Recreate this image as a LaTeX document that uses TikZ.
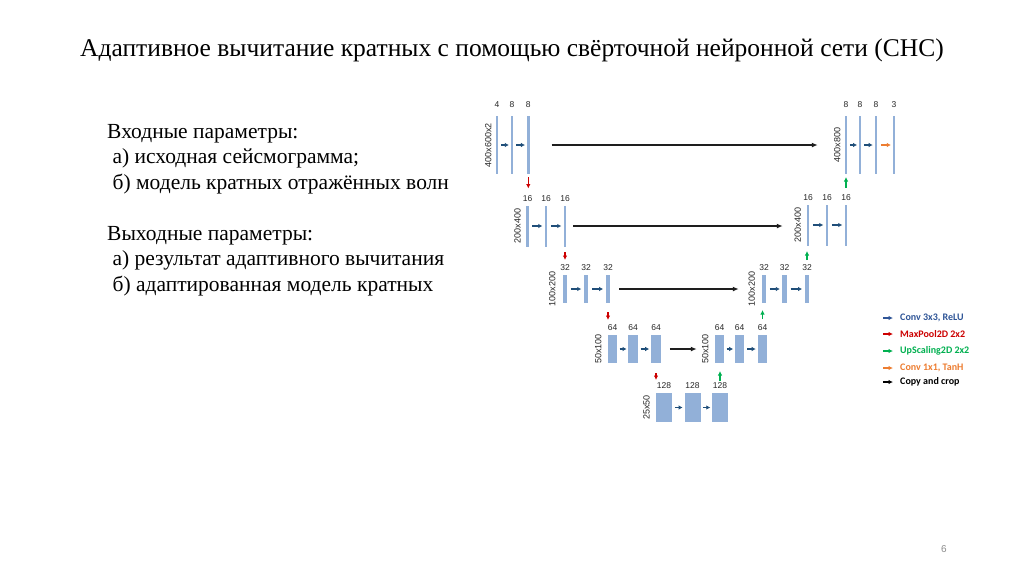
\documentclass[tikz,border=0pt]{standalone}
\usepackage{fontspec}
\setmainfont{Liberation Serif}
\newfontfamily\arialf{Liberation Sans}
\newfontfamily\calibrif{Carlito}
\usetikzlibrary{arrows.meta,calc}
\definecolor{barc}{RGB}{146,176,216}
\definecolor{convc}{RGB}{31,78,121}
\definecolor{poolc}{RGB}{204,0,0}
\definecolor{upc}{RGB}{0,176,80}
\definecolor{tanhc}{RGB}{237,125,49}
\definecolor{legblue}{RGB}{47,85,151}
\definecolor{copyc}{RGB}{30,30,30}
\begin{document}
\begin{tikzpicture}[x=1pt,y=-1pt,
  bar/.style={fill=barc,draw=none,inner sep=0pt,outer sep=0pt,minimum width=#1},
  num/.style={font=\arialf\fontsize{8.5}{9}\selectfont,inner sep=0pt,text=black!85},
  dim/.style={font=\arialf\fontsize{9}{10}\selectfont,inner sep=1pt,rotate=90,anchor=south,text=black!85},
  conv/.style={draw=convc,line width=1.2pt,-{Latex[length=4pt,width=4.5pt]}},
  tanh/.style={draw=tanhc,line width=1.2pt,-{Latex[length=4pt,width=4.5pt]}},
  pool/.style={draw=poolc,line width=1.1pt,-{Latex[length=4.5pt,width=4.5pt]}},
  upsc/.style={draw=upc,line width=1.1pt,-{Latex[length=4.5pt,width=4.5pt]}},
  copyar/.style={draw=copyc,line width=1.3pt,-{Latex[length=6pt,width=5pt]}},
  leg/.style={font=\calibrif\bfseries\fontsize{10}{11}\selectfont,anchor=west,inner sep=0pt},
  legar/.style={line width=1.1pt,-{Latex[length=4.5pt,width=4.5pt]}},
  body/.style={font=\fontsize{21.5}{25}\selectfont,anchor=base west,inner sep=0pt}
]
\useasboundingbox (0,0) rectangle (1024,574);
\fill[white] (0,0) rectangle (1024,574);

% title
\node[font=\fontsize{25.5}{30}\selectfont,inner sep=0pt] (title) at (512,50) {Адаптивное вычитание кратных с помощью свёрточной нейронной сети (СНС)};

% left text
\node[body] (t1) at (107,138) {Входные параметры:};
\node[body] (t2) at (107,163) {\ а) исходная сейсмограмма;};
\node[body] (t3) at (107,189) {\ б) модель кратных отражённых волн};
\node[body] (t4) at (107,240) {Выходные параметры:};
\node[body] (t5) at (107,265) {\ а) результат адаптивного вычитания};
\node[body] (t6) at (107,291) {\ б) адаптированная модель кратных};

% ---- level 1 left
\node[bar=2.5, minimum height=58] (a1) at (497,145) {};
\node[bar=2.5, minimum height=58] (a2) at (512,145) {};
\node[bar=2.5, minimum height=58] (a3) at (528.3,145) {};
% level 1 right
\node[bar=2.5, minimum height=58] (h1) at (846,145) {};
\node[bar=2.5, minimum height=58] (h2) at (860,145) {};
\node[bar=2.5, minimum height=58] (h3) at (876,145) {};
\node[bar=1.6, minimum height=58] (h4) at (894,145) {};
% level 2
\node[bar=2.5, minimum height=41] (b1) at (527.7,226) {};
\node[bar=2.5, minimum height=41] (b2) at (546,226) {};
\node[bar=2.5, minimum height=41] (b3) at (565,226) {};
\node[bar=2.5, minimum height=41] (g1) at (808,225) {};
\node[bar=2.5, minimum height=41] (g2) at (827,225) {};
\node[bar=2.5, minimum height=41] (g3) at (846,225) {};
% level 3
\node[bar=4.5, minimum height=28] (c1) at (565,289) {};
\node[bar=4.5, minimum height=28] (c2) at (586,289) {};
\node[bar=4.5, minimum height=28] (c3) at (608,289) {};
\node[bar=4.5, minimum height=28] (f1) at (764,289) {};
\node[bar=4.5, minimum height=28] (f2) at (784.5,289) {};
\node[bar=4.5, minimum height=28] (f3) at (807,289) {};
% level 4
\node[bar=9.5, minimum height=28] (d1) at (612.5,349) {};
\node[bar=9.5, minimum height=28] (d2) at (633,349) {};
\node[bar=9.5, minimum height=28] (d3) at (656,349) {};
\node[bar=9.5, minimum height=28] (e1) at (719.5,349) {};
\node[bar=9.5, minimum height=28] (e2) at (739.5,349) {};
\node[bar=9.5, minimum height=28] (e3) at (762.5,349) {};
% level 5
\node[bar=16, minimum height=29] (m1) at (664,407.5) {};
\node[bar=16, minimum height=29] (m2) at (692.5,407.5) {};
\node[bar=16, minimum height=29] (m3) at (720,407.5) {};

% channel labels
\foreach \n/\t in {a1/4,a2/8,a3/8,h1/8,h2/8,h3/8,h4/3}
  \node[num] (l\n) at ([yshift=11pt]\n.north) {\t};
\foreach \n/\t in {b1/16,b2/16,b3/16,g1/16,g2/16,g3/16,c1/32,c2/32,c3/32,f1/32,f2/32,f3/32,d1/64,d2/64,d3/64,e1/64,e2/64,e3/64,m1/128,m2/128,m3/128}
  \node[num] (l\n) at ([yshift=7pt]\n.north) {\t};

% dimension labels
\node[dim] (da) at ([xshift=-3pt]a1.west) {400x600x2};
\node[dim] (dh) at ([xshift=-3pt]h1.west) {400x800};
\node[dim] (db) at ([xshift=-4.5pt]b1.west) {200x400};
\node[dim] (dg) at ([xshift=-4.5pt]g1.west) {200x400};
\node[dim] (dc) at ([xshift=-6pt]c1.west) {100x200};
\node[dim] (df) at ([xshift=-5.5pt]f1.west) {100x200};
\node[dim] (dd) at ([xshift=-5pt]d1.west) {50x100};
\node[dim] (de) at ([xshift=-5pt]e1.west) {50x100};
\node[dim] (dm) at ([xshift=-5pt]m1.west) {25x50};

% conv arrows
\foreach \p/\q in {a1/a2,a2/a3,h1/h2,h2/h3,b1/b2,b2/b3,g1/g2,g2/g3,c1/c2,c2/c3,f1/f2,f2/f3,d1/d2,d2/d3,e1/e2,e2/e3,m1/m2,m2/m3}
  \draw[conv] ($(\p.east)!0.22!(\q.west)$) -- ($(\p.east)!0.85!(\q.west)$);
\draw[tanh] ($(h3.east)!0.22!(h4.west)$) -- ($(h3.east)!0.85!(h4.west)$);

% maxpool
\draw[pool,shorten <=3pt,shorten >=17pt] (a3.south) -- (a3.south |- b1.north);
\draw[pool,shorten <=5.5pt,shorten >=15pt] (b3.south) -- (b3.south |- c1.north);
\draw[pool,shorten <=9pt,shorten >=15pt] (c3.south) -- (c3.south |- d1.north);
\draw[pool,shorten <=10pt,shorten >=13pt] (d3.south) -- (d3.south |- m1.north);
% upscaling
\draw[upsc,shorten <=12pt,shorten >=8pt] (m3.north) -- (m3.north |- e1.south);
\draw[upsc,shorten <=16pt,shorten >=7pt] (e3.north) -- (e3.north |- f1.south);
\draw[upsc,shorten <=15pt,shorten >=5.5pt] (f3.north) -- (f3.north |- g1.south);
\draw[upsc,shorten <=17pt,shorten >=3pt] (g3.north) -- (g3.north |- h1.south);
% copy and crop
\draw[copyar,shorten <=22pt,shorten >=27pt] (a3.east) -- (a3.east -| h1.west);
\draw[copyar,shorten <=7pt,shorten >=24pt] (b3.east) -- (b3.east -| g1.west);
\draw[copyar,shorten <=9pt,shorten >=23pt] (c3.east) -- (c3.east -| f1.west);
\draw[copyar,shorten <=9pt,shorten >=18pt] (d3.east) -- (d3.east -| e1.west);

% legend
\coordinate (k1a) at (883,318); \coordinate (k1b) at (893,318);
\coordinate (k2a) at (883,334); \coordinate (k2b) at (893,334);
\coordinate (k3a) at (883,351); \coordinate (k3b) at (893,351);
\coordinate (k4a) at (883,368); \coordinate (k4b) at (893,368);
\coordinate (k5a) at (883,382); \coordinate (k5b) at (893,382);
\draw[legar,draw=legblue] (k1a) -- (k1b);
\draw[legar,draw=poolc] (k2a) -- (k2b);
\draw[legar,draw=upc] (k3a) -- (k3b);
\draw[legar,draw=tanhc] (k4a) -- (k4b);
\draw[legar,draw=black] (k5a) -- (k5b);
\node[leg,text=legblue] (lg1) at ([xshift=7pt]k1b) {Conv 3x3, ReLU};
\node[leg,text=poolc] (lg2) at ([xshift=7pt]k2b) {MaxPool2D 2x2};
\node[leg,text=upc] (lg3) at ([xshift=7pt]k3b) {UpScaling2D 2x2};
\node[leg,text=tanhc] (lg4) at ([xshift=7pt]k4b) {Conv 1x1, TanH};
\node[leg,text=black] (lg5) at ([xshift=7pt]k5b) {Copy and crop};

% page number
\node[font=\arialf\fontsize{10}{12}\selectfont,text=black!45,inner sep=0pt] (pg) at (944,549) {6};
\end{tikzpicture}
\end{document}
